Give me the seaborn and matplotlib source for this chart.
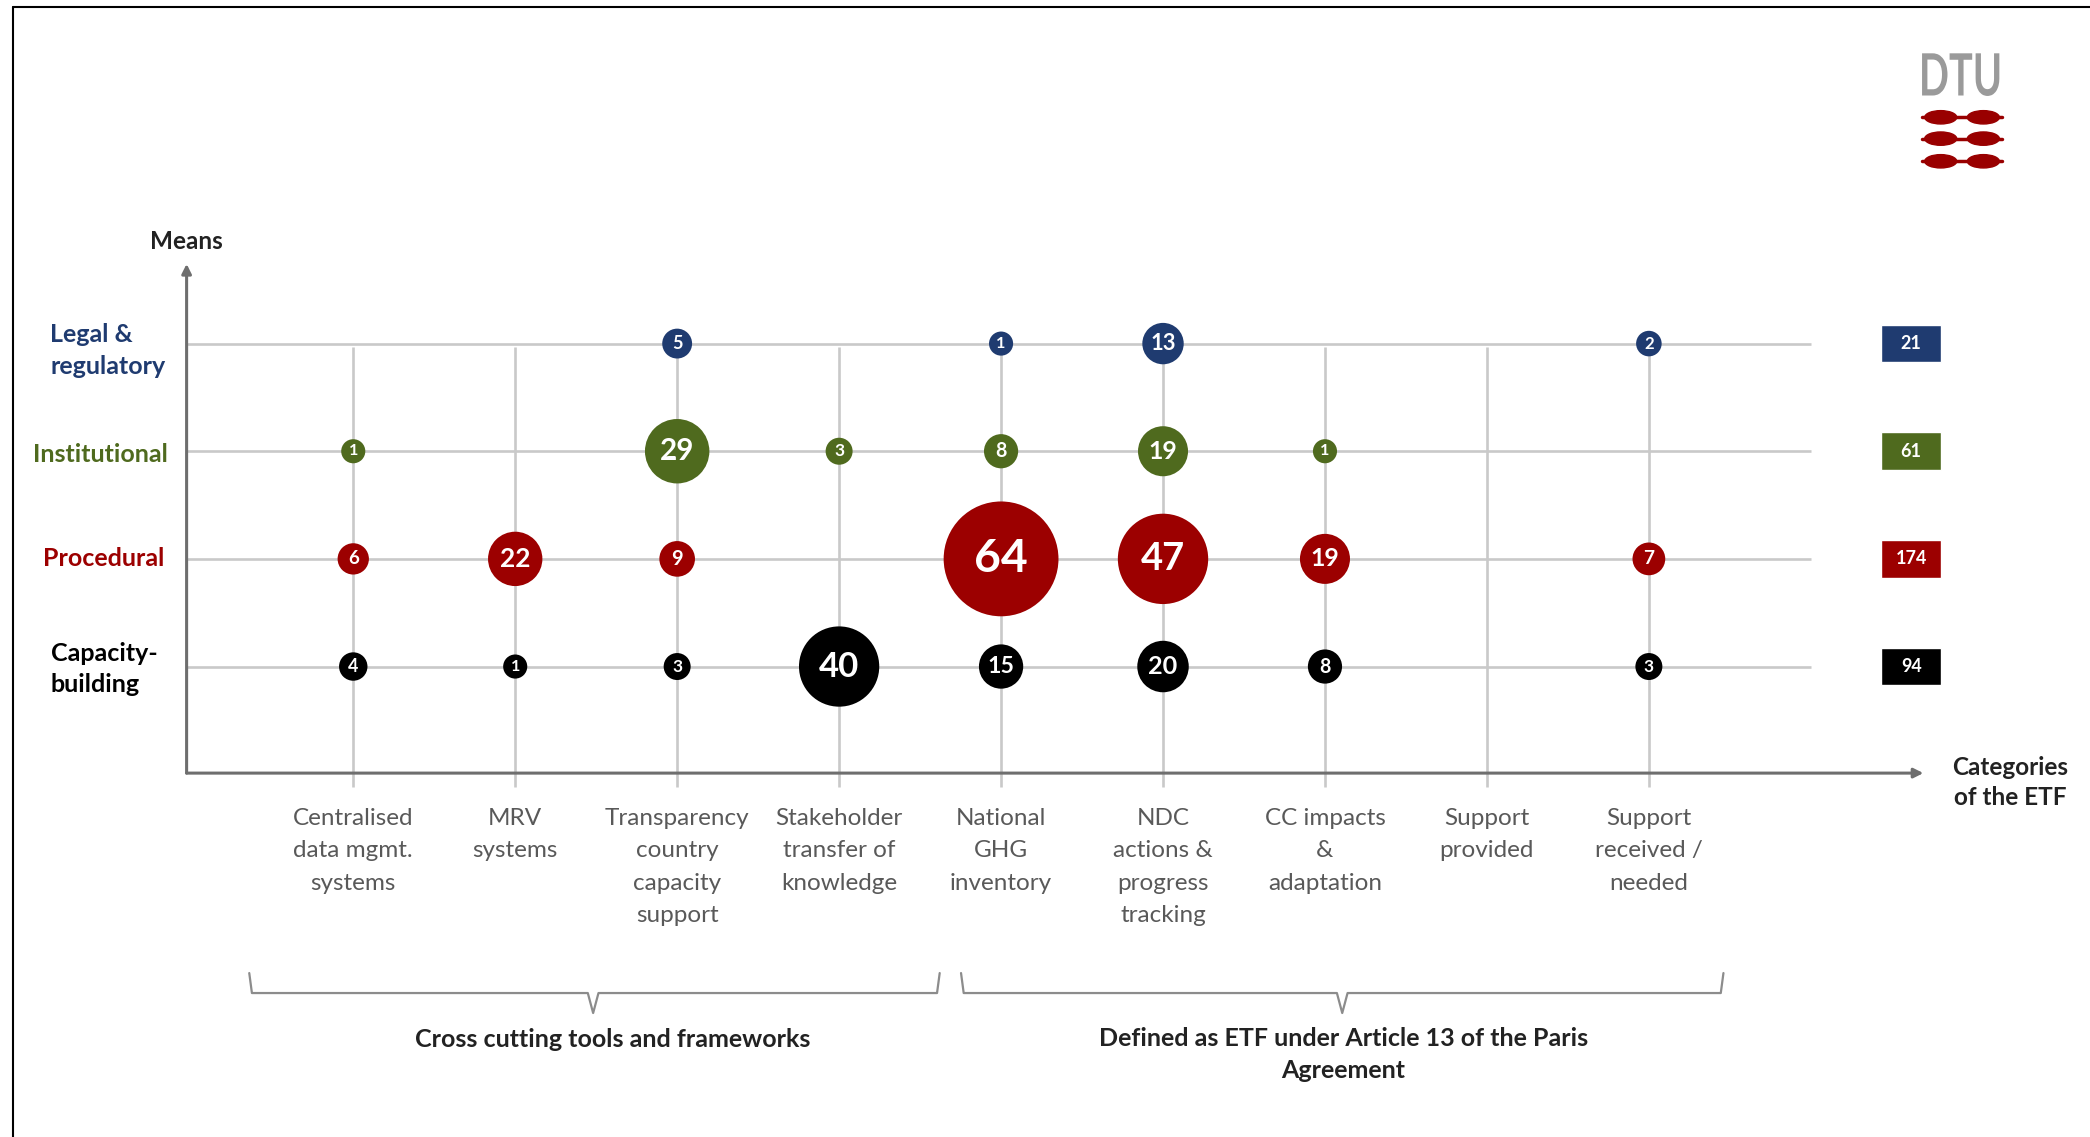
import numpy as np
import pandas as pd
import matplotlib.pyplot as plt
import matplotlib.transforms as mtransforms
from matplotlib.lines import Line2D
from matplotlib.patches import Ellipse, PathPatch
from matplotlib.textpath import TextPath
from matplotlib.font_manager import FontProperties
import seaborn as sns

sns.set_style('white')
plt.rcParams['font.family'] = ['Lato', 'DejaVu Sans']

# ETF categories (x) and means (y, bottom to top)
categories = ['Centralised\ndata mgmt.\nsystems', 'MRV\nsystems',
              'Transparency\ncountry\ncapacity\nsupport', 'Stakeholder\ntransfer of\nknowledge',
              'National\nGHG\ninventory', 'NDC\nactions &\nprogress\ntracking',
              'CC impacts\n&\nadaptation', 'Support\nprovided', 'Support\nreceived /\nneeded']
means = ['Capacity-\nbuilding', 'Procedural', 'Institutional', 'Legal &\nregulatory']
means_colors = ['#000000', '#9C0000', '#4F6A1E', '#1F3B70']

# number of projects per category, one list per means (0 = no bubble)
capacity = [4, 1, 3, 40, 15, 20, 8, 0, 3]
procedural = [6, 22, 9, 0, 64, 47, 19, 0, 7]
institutional = [1, 0, 29, 3, 8, 19, 1, 0, 0]
legal = [0, 0, 5, 0, 1, 13, 0, 0, 2]
totals = [94, 174, 61, 21]

groups = ['Cross cutting tools and frameworks',
          'Defined as ETF under Article 13 of the Paris\nAgreement']

rows = []
for mi, counts in enumerate([capacity, procedural, institutional, legal]):
    for ci, n in enumerate(counts):
        if n > 0:
            rows.append({'category': ci, 'level': mi, 'means': means[mi], 'count': n})
df = pd.DataFrame(rows)

# reference layout is measured on a 1568 x 853 grid
W, H = 1568.0, 853.0
def fx(x):
    return x / W
def fy(y):
    return 1 - y / H

fig = plt.figure(figsize=(20.9, 11.37), dpi=100)
ax = fig.add_axes([fx(140), fy(580), fx(1443) - fx(140), fy(198) - fy(580)])
ax.set_xlim(-1.029, 9.695)
ax.set_ylim(-0.99, 3.74)
ax.axis('off')

grid_c = '#C9C9C9'
ax.hlines(range(4), -1.029, 9.0, color=grid_c, lw=1.9, zorder=1)
ax.vlines(range(len(categories)), -1.12, 2.97, color=grid_c, lw=1.9, zorder=1, clip_on=False)

# axes with arrows
for tip in [(1, 0), (0, 1)]:
    ax.annotate('', xy=tip, xytext=(0, 0), xycoords='axes fraction',
                arrowprops=dict(arrowstyle='-|>', color='#6E6E6E', lw=2.2,
                                mutation_scale=14, shrinkA=0, shrinkB=0), zorder=2)

# bubble diameter (pt) grows linearly with the count
def diam(v):
    return (17 + 1.08 * v) * 0.96
size_map = {v: diam(v) ** 2 for v in df['count'].unique()}

sns.scatterplot(data=df, x='category', y='level', hue='means',
                palette=dict(zip(means, means_colors)), size='count', sizes=size_map,
                edgecolor='none', linewidth=0, alpha=1, legend=False, ax=ax, zorder=3)

for _, r in df.iterrows():
    fs = 6 + 0.33 * diam(r['count'])
    ax.text(r['category'], r['level'], str(r['count']), ha='center', va='center',
            color='white', fontsize=fs, fontweight='bold', zorder=4)

# totals per means
ax.barh(range(4), 0.37, left=9.62 - 0.185, height=0.35, color=means_colors, clip_on=False)
for i, t in enumerate(totals):
    ax.text(9.62, i, str(t), ha='center', va='center', color='white',
            fontsize=13, fontweight='bold')

# category labels
for i, c in enumerate(categories):
    ax.text(i, -1.31, c, ha='center', va='top', fontsize=17.5, color='#595959',
            linespacing=1.68)

# means labels
label_pos = [(78, 502), (78, 419), (75, 341), (81, 263)]
for (x, y), m, c in zip(label_pos, means, means_colors):
    fig.text(fx(x), fy(y), m, ha='center', va='center', multialignment='left',
             color=c, fontsize=18, fontweight='bold', linespacing=1.45)

fig.text(fx(140), fy(181), 'Means', ha='center', va='center', fontsize=17.5,
         fontweight='bold', color='#222222')
fig.text(fx(1508), fy(587), 'Categories\nof the ETF', ha='center', va='center',
         fontsize=17.5, fontweight='bold', color='#222222', linespacing=1.4)

# braces
brace_c = '#8C8C8C'
for x0, x1, xm in [(187, 705, 445), (721, 1293, 1007)]:
    xs = [x0, x0 + 2, xm - 4, xm, xm + 4, x1 - 2, x1]
    ys = [730, 745, 745, 760, 745, 745, 730]
    fig.add_artist(Line2D([fx(v) for v in xs], [fy(v) for v in ys], color=brace_c, lw=1.6))
fig.text(fx(460), fy(780), groups[0], ha='center', va='center', fontsize=18,
         fontweight='bold', color='#222222')
fig.text(fx(1008), fy(791), groups[1], ha='center', va='center', fontsize=18,
         fontweight='bold', color='#222222', linespacing=1.45)

# frame
fig.add_artist(Line2D([fx(10), fx(10)], [0, fy(5)], color='black', lw=1.5))
fig.add_artist(Line2D([fx(10), 1], [fy(5), fy(5)], color='black', lw=1.5))

# DTU logo: condensed grey letters, three red bars
tp = TextPath((0, 0), 'DTU', size=1, prop=FontProperties(family='Lato', weight='bold'))
ext = tp.get_extents()
tr = (mtransforms.Affine2D().translate(-ext.x0, -ext.y0)
      .scale((fx(1500) - fx(1442)) / ext.width, (fy(40) - fy(72)) / ext.height)
      .translate(fx(1442), fy(72)) + fig.transFigure)
fig.add_artist(PathPatch(tp, transform=tr, color='#9A9A9A', lw=0))
for y in [88, 104, 121]:
    fig.add_artist(Line2D([fx(1442), fx(1502)], [fy(y), fy(y)], color='#990000', lw=2.5))
    for xc in [1456, 1488]:
        fig.add_artist(Ellipse((fx(xc), fy(y)), 24 / W, 10 / H, color='#990000'))

fig.savefig('out.png', dpi=100)
